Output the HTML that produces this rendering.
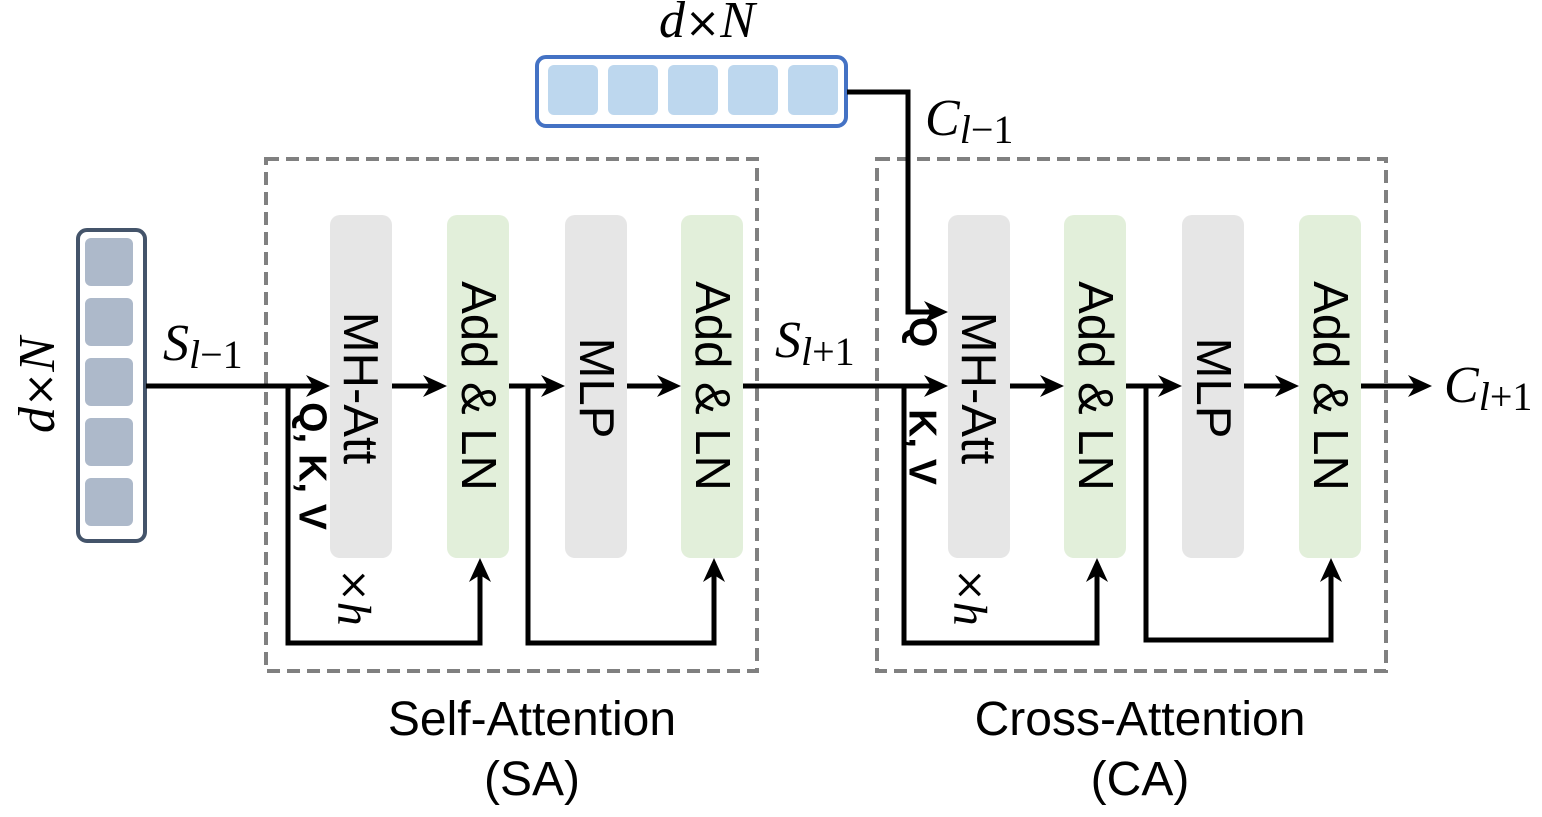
<!DOCTYPE html>
<html><head><meta charset="utf-8"><style>html,body{margin:0;padding:0;background:#fff}svg{display:block}</style></head>
<body>
<svg width="1542" height="817" viewBox="0 0 1542 817" xmlns="http://www.w3.org/2000/svg">
<rect x="266" y="159" width="491" height="512" fill="none" stroke="#808080" stroke-width="4" stroke-dasharray="13,7"/>
<rect x="877" y="159" width="509" height="512" fill="none" stroke="#808080" stroke-width="4" stroke-dasharray="13,7"/>
<g>
<rect x="330" y="215" width="62" height="343" rx="10" fill="#e6e6e6"/>
<rect x="447" y="215" width="62" height="343" rx="10" fill="#e2efda"/>
<rect x="565" y="215" width="62" height="343" rx="10" fill="#e6e6e6"/>
<rect x="681" y="215" width="62" height="343" rx="10" fill="#e2efda"/>
<rect x="948" y="215" width="62" height="343" rx="10" fill="#e6e6e6"/>
<rect x="1064" y="215" width="62" height="343" rx="10" fill="#e2efda"/>
<rect x="1182" y="215" width="62" height="343" rx="10" fill="#e6e6e6"/>
<rect x="1299" y="215" width="62" height="343" rx="10" fill="#e2efda"/>
</g>
<rect x="78" y="230" width="67" height="311" rx="9" fill="#fff" stroke="#44546a" stroke-width="4"/>
<g fill="#adb9ca">
<rect x="85" y="238" width="48" height="48" rx="6"/>
<rect x="85" y="298" width="48" height="48" rx="6"/>
<rect x="85" y="358" width="48" height="48" rx="6"/>
<rect x="85" y="418" width="48" height="48" rx="6"/>
<rect x="85" y="478" width="48" height="48" rx="6"/>
</g>
<rect x="537" y="57" width="309" height="69" rx="9" fill="#fff" stroke="#4472c4" stroke-width="4"/>
<g fill="#bdd7ee">
<rect x="548" y="65" width="50" height="50" rx="6"/>
<rect x="608" y="65" width="50" height="50" rx="6"/>
<rect x="668" y="65" width="50" height="50" rx="6"/>
<rect x="728" y="65" width="50" height="50" rx="6"/>
<rect x="788" y="65" width="50" height="50" rx="6"/>
</g>
<g fill="none" stroke="#000" stroke-width="5">
<path d="M146 386 H322"/>
<path d="M288 386 V643 H480 V565"/>
<path d="M392 386 H440"/>
<path d="M509 386 H558"/>
<path d="M528 386 V643 H714 V565"/>
<path d="M627 386 H674"/>
<path d="M743 386 H940"/>
<path d="M904 386 V643 H1097 V565"/>
<path d="M847 92 H908 V312 H940"/>
<path d="M1010 386 H1057"/>
<path d="M1126 386 H1175"/>
<path d="M1146 386 V640 H1331 V565"/>
<path d="M1244 386 H1292"/>
<path d="M1361 386 H1422"/>
</g>
<g fill="#000">
<path d="M330 386 L306 375 L313 386 L306 397 Z"/>
<path d="M447 386 L423 375 L430 386 L423 397 Z"/>
<path d="M565 386 L541 375 L548 386 L541 397 Z"/>
<path d="M681 386 L657 375 L664 386 L657 397 Z"/>
<path d="M948 386 L924 375 L931 386 L924 397 Z"/>
<path d="M948 312 L924 301 L931 312 L924 323 Z"/>
<path d="M1064 386 L1040 375 L1047 386 L1040 397 Z"/>
<path d="M1182 386 L1158 375 L1165 386 L1158 397 Z"/>
<path d="M1299 386 L1275 375 L1282 386 L1275 397 Z"/>
<path d="M1432 386 L1408 375 L1415 386 L1408 397 Z"/>
<path d="M480 558 L469 582 L480 575 L491 582 Z"/>
<path d="M714 558 L703 582 L714 575 L725 582 Z"/>
<path d="M1097 558 L1086 582 L1097 575 L1108 582 Z"/>
<path d="M1331 558 L1320 582 L1331 575 L1342 582 Z"/>
</g>
<g font-family="Liberation Sans, sans-serif" font-size="49" fill="#000" text-anchor="middle" dominant-baseline="central">
<text transform="translate(360,388) rotate(90)">MH-Att</text>
<text transform="translate(478,386) rotate(90)">Add &amp; LN</text>
<text transform="translate(596,388) rotate(90)">MLP</text>
<text transform="translate(712,386) rotate(90)">Add &amp; LN</text>
<text transform="translate(978,388) rotate(90)">MH-Att</text>
<text transform="translate(1095,386) rotate(90)">Add &amp; LN</text>
<text transform="translate(1213,388) rotate(90)">MLP</text>
<text transform="translate(1330,386) rotate(90)">Add &amp; LN</text>
</g>
<g font-family="Liberation Sans, sans-serif" font-size="39" font-weight="bold" fill="#000" text-anchor="middle" dominant-baseline="central">
<text transform="translate(312,466) rotate(90)">Q, K, V</text>
<text transform="translate(922,332) rotate(90)">Q</text>
<text transform="translate(922,447) rotate(90)">K, V</text>
</g>
<g font-family="DejaVu Serif, serif" font-size="40" fill="#000" text-anchor="middle" dominant-baseline="central">
<text transform="translate(354,597) rotate(90)">×<tspan font-family="Liberation Serif, serif" font-style="italic" font-size="48">h</tspan></text>
<text transform="translate(970,597) rotate(90)">×<tspan font-family="Liberation Serif, serif" font-style="italic" font-size="48">h</tspan></text>
</g>
<g font-family="Liberation Serif, serif" fill="#000" font-size="52">
<text transform="translate(54,385) rotate(-90)" text-anchor="middle"><tspan font-style="italic">d</tspan><tspan font-family="DejaVu Serif, serif" font-size="42">×</tspan><tspan font-style="italic">N</tspan></text>
<text x="707" y="37" text-anchor="middle"><tspan font-style="italic">d</tspan><tspan font-family="DejaVu Serif, serif" font-size="42">×</tspan><tspan font-style="italic">N</tspan></text>
<text x="163" y="360"><tspan font-style="italic">S</tspan><tspan font-size="40" dy="8"><tspan font-style="italic">l</tspan>−1</tspan></text>
<text x="775" y="357"><tspan font-style="italic">S</tspan><tspan font-size="40" dy="8"><tspan font-style="italic">l</tspan>+1</tspan></text>
<text x="925" y="135"><tspan font-style="italic">C</tspan><tspan font-size="40" dy="8"><tspan font-style="italic">l</tspan>−1</tspan></text>
<text x="1444" y="402"><tspan font-style="italic">C</tspan><tspan font-size="40" dy="8"><tspan font-style="italic">l</tspan>+1</tspan></text>
</g>
<g font-family="Liberation Sans, sans-serif" font-size="48" fill="#000" text-anchor="middle">
<text x="532" y="735">Self-Attention</text>
<text x="532" y="795">(SA)</text>
<text x="1140" y="735">Cross-Attention</text>
<text x="1140" y="795">(CA)</text>
</g>
</svg>
</body></html>
